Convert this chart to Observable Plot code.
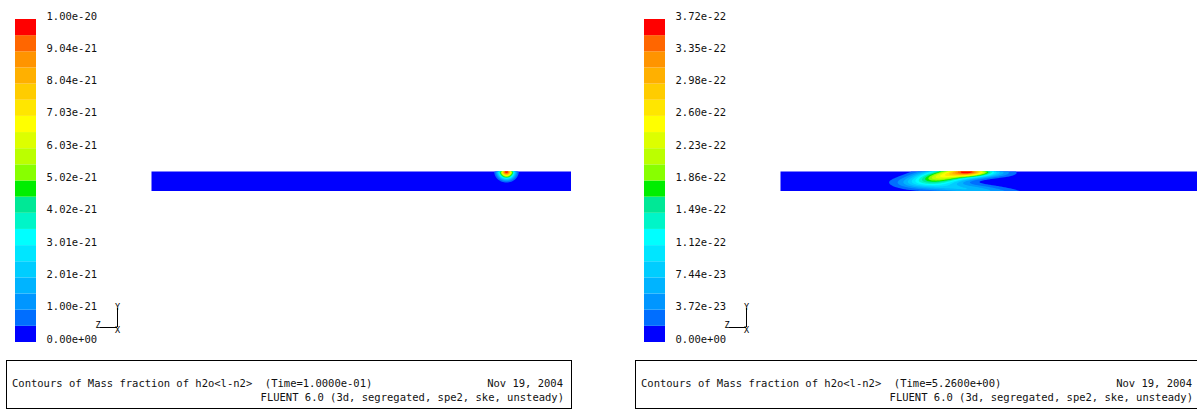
<!DOCTYPE html>
<html><head><meta charset="utf-8">
<script src="https://cdn.jsdelivr.net/npm/d3@7"></script>
<script src="https://cdn.jsdelivr.net/npm/@observablehq/plot@0.6"></script>
<style>
html,body{margin:0;padding:0;background:#fff;}
#wrap{position:relative;width:1197px;height:412px;overflow:hidden;background:#fff;}
.abs{position:absolute;}
.footer{position:absolute;box-sizing:border-box;border:1px solid #000;height:49px;width:566px;font-family:"DejaVu Sans Mono",monospace;font-size:10.5px;color:#111;white-space:pre;}
.footer div{position:absolute;line-height:12px;}
</style></head><body><div id="wrap"></div>
<script>
// 20 contour band colours, from lowest (blue) to highest (red)
const bandColors = ["#0000FF","#006EFF","#0096FF","#00B4FF","#00CDFF","#00E6FF","#00FFFF","#00F5C8","#00E896","#00EE00",
                    "#88FF00","#BBFF00","#DDFF00","#FFFF00","#FFE600","#FFCC00","#FFB000","#FF9400","#FF6600","#FF0000"];
// contour levels as fraction of the colour-bar maximum
const levelFractions = [0.05,0.10,0.15,0.20,0.25,0.30,0.35,0.40,0.45,0.50,0.55,0.60,0.65,0.70,0.75,0.80,0.85,0.90,0.95];
// colour-bar tick labels, bottom to top
const labelsLeft = ["0.00e+00","1.00e-21","2.01e-21","3.01e-21","4.02e-21","5.02e-21","6.03e-21","7.03e-21","8.04e-21","9.04e-21","1.00e-20"];
const labelsRight = ["0.00e+00","3.72e-23","7.44e-23","1.12e-22","1.49e-22","1.86e-22","2.23e-22","2.60e-22","2.98e-22","3.35e-22","3.72e-22"];
const timeLeft = "1.0000e-01";
const timeRight = "5.2600e+00";
const footerTitle = "Contours of Mass fraction of h2o<l-n2>  (Time=";
const footerDate = "Nov 19, 2004";
const footerSolver = "FLUENT 6.0 (3d, segregated, spe2, ske, unsteady)";
// plume sources (channel units: x 0..420 along, y 0..20 across; amp as fraction of max)
const sourcesLeft = [
  {x: 355, y: 20, sx: 5, sy: 4.5, angle: 0, amp: 1.0}
];
const sourcesRight = [
  {x: 190, y: 20, sx: 13, sy: 3.5, angle: 0, amp: 0.6},
  {x: 165, y: 16, sx: 22, sy: 5, angle: 8, amp: 0.65},
  {x: 182, y: 3, sx: 37, sy: 4, angle: -5, amp: 0.2},
  {x: 212, y: 18.5, sx: 16, sy: 3, angle: 0, amp: 0.15}
];

function field(sources) {
  return (x, y) => {
    let v = 0;
    for (const s of sources) {
      const a = s.angle * Math.PI / 180, dx = x - s.x, dy = y - s.y;
      const u = dx * Math.cos(a) + dy * Math.sin(a);
      const w = -dx * Math.sin(a) + dy * Math.cos(a);
      v += s.amp * Math.exp(-(u * u) / (2 * s.sx * s.sx) - (w * w) / (2 * s.sy * s.sy));
    }
    return Math.min(v, 0.999);
  };
}

const wrap = document.getElementById("wrap");
function place(el, left, top) {
  el.classList.add("abs");
  el.style.left = left + "px";
  el.style.top = top + "px";
  wrap.appendChild(el);
}

function panel(off, labels, sources, time) {
  const bands = bandColors.map((c, i) => ({i, c}));
  const bar = Plot.plot({
    width: 140, height: 412, marginLeft: 15, marginRight: 104, marginTop: 19, marginBottom: 70,
    style: {background: "transparent"},
    x: {domain: [0, 1], axis: null}, y: {domain: [0, 20], axis: null}, color: {type: "identity"},
    marks: [
      Plot.rect(bands, {x1: 0, x2: 1, y1: d => d.i, y2: d => d.i + 1, fill: d => d.c}),
      Plot.text(labels, {x: 1, y: (d, i) => 2 * i, text: d => d, textAnchor: "start", lineAnchor: "bottom",
        dx: 10, fontFamily: "DejaVu Sans Mono", fontSize: 10.5, fill: "#111"})
    ]
  });
  place(bar, off, 0);

  const triad = Plot.plot({
    width: 40, height: 45, marginLeft: 10, marginRight: 13, marginTop: 8, marginBottom: 18,
    style: {background: "transparent", overflow: "visible"},
    x: {domain: [-1, 0], axis: null}, y: {domain: [0, 1], axis: null},
    marks: [
      Plot.ruleX([0], {y1: 0, y2: 1, stroke: "#000"}),
      Plot.ruleY([0], {x1: -1, x2: 0, stroke: "#000"}),
      Plot.text(["Y"], {x: 0, y: 1, text: d => d, lineAnchor: "bottom", dy: 1, fontFamily: "DejaVu Sans Mono", fontSize: 8.5}),
      Plot.text(["Z"], {x: -1, y: 0, text: d => d, textAnchor: "end", dx: 0, dy: -2, fontFamily: "DejaVu Sans Mono", fontSize: 8.5}),
      Plot.text(["X"], {x: 0, y: 0, text: d => d, dy: 3, fontFamily: "DejaVu Sans Mono", fontSize: 8.5})
    ]
  });
  place(triad, off + 90, 300);

  const chan = Plot.plot({
    width: 420, height: 20, margin: 0,
    style: {background: "transparent"},
    x: {domain: [0, 420], axis: null}, y: {domain: [0, 20], axis: null},
    color: {type: "threshold", domain: levelFractions, range: bandColors},
    marks: [
      Plot.frame({fill: bandColors[0], stroke: "none"}),
      Plot.contour({x1: 0, x2: 420, y1: 0, y2: 20, fill: field(sources), thresholds: levelFractions, stroke: "none", pixelSize: 1})
    ]
  });
  place(chan, off + 151, 171);

  const foot = document.createElement("div");
  foot.className = "footer";
  foot.style.left = (off + 6) + "px";
  foot.style.top = "360px";
  const l1 = document.createElement("div");
  l1.textContent = footerTitle + time + ")";
  l1.style.left = "5px"; l1.style.top = "16px";
  const r1 = document.createElement("div");
  r1.textContent = footerDate;
  r1.style.right = "8px"; r1.style.top = "16px";
  const r2 = document.createElement("div");
  r2.textContent = footerSolver;
  r2.style.right = "7px"; r2.style.top = "30px";
  foot.append(l1, r1, r2);
  wrap.appendChild(foot);
}

panel(0, labelsLeft, sourcesLeft, timeLeft);
panel(629, labelsRight, sourcesRight, timeRight);
</script></body></html>
